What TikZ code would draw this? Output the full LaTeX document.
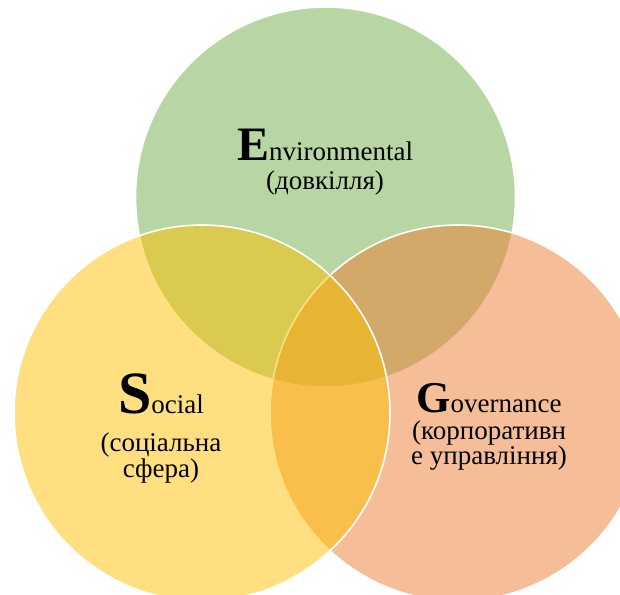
\documentclass[tikz,border=0pt]{standalone}
\usepackage{fontspec}
\setmainfont{Liberation Serif}
\definecolor{envgreen}{HTML}{70AD47}
\definecolor{socgold}{HTML}{FFC000}
\definecolor{govorange}{HTML}{ED7D31}
\newcommand{\bigfirst}[2]{{\fontsize{#1}{#1}\selectfont\bfseries #2}}

\begin{document}
\begin{tikzpicture}[x=1pt, y=-1pt,
  venn/.style={circle, draw=white, line width=1.6pt, fill opacity=0.5, draw opacity=1,
    minimum size=#1, inner sep=0pt},
  lbl/.style={align=center, inner sep=0pt, font=\fontsize{27}{22}\selectfont}]

\useasboundingbox (0,0) rectangle (620,594);
\clip (0,0) rectangle (620,594);

% circles: green first, then orange, then gold on top
\node[venn=380pt, fill=envgreen]  (env) at (325.5,197) {};
\node[venn=376pt, fill=govorange] (gov) at (458,413) {};
\node[venn=376pt, fill=socgold]   (soc) at (202,413) {};

% labels
\node[lbl, anchor=north] (envlbl) at (325,129) {\bigfirst{48}{E}nvironmental\\[7pt](довкілля)};
\node[lbl, anchor=north] (soclbl) at (161,374) {\bigfirst{60}{S}ocial\\[16pt](соціальна\\сфера)};
\node[lbl, anchor=north] (govlbl) at (489,383) {\bigfirst{44}{G}overnance\\[5pt](корпоративн\\е управління)};

\end{tikzpicture}
\end{document}
